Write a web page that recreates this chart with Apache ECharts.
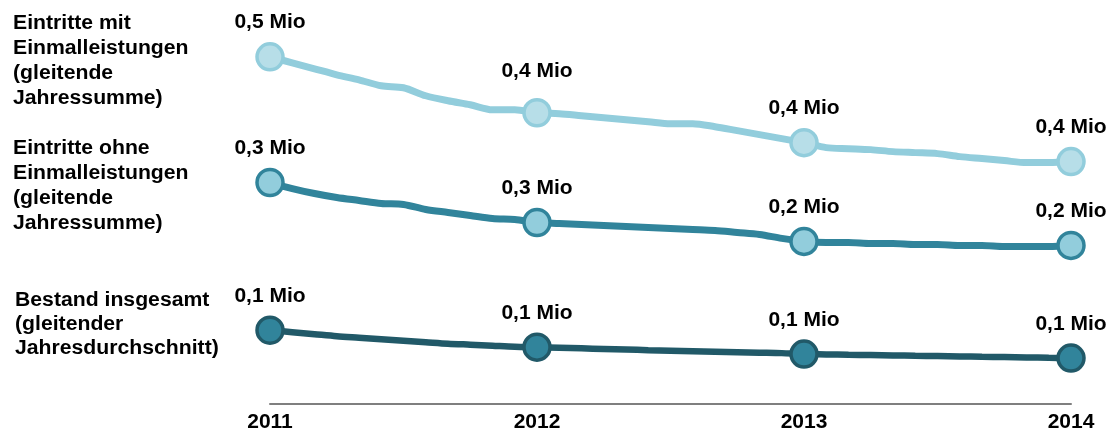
<!DOCTYPE html>
<html>
<head>
<meta charset="utf-8">
<script src="https://cdn.jsdelivr.net/npm/echarts@6/dist/echarts.min.js"></script>
<style>
  html, body { margin: 0; padding: 0; background: #fff; }
  #main { width: 1111px; height: 433px; }
</style>
</head>
<body>
<div id="main"></div>
<script>
// years on the axis, monthly steps between them
var years = [2011, 2012, 2013, 2014];
var stepsPerYear = 12;

// relative level of each line (monthly, Jan 2011 .. Jan 2014)
var mitEinmal = [348, 342, 336, 330, 325, 319, 317, 309, 304, 300, 295, 295,
    292, 291, 289, 287, 285, 283, 281, 281, 278, 274, 270, 266,
    262, 257, 256, 255, 253, 252, 251, 248, 246, 244, 242, 242, 243];
var ohneEinmal = [222, 216, 211, 207, 204, 201, 200, 195, 192, 189, 186, 185,
    182, 181, 180, 179, 178, 177, 176, 175, 174, 172, 170, 166,
    163, 162, 162, 161, 161, 160, 160, 159, 159, 158, 158, 158, 159];
var bestand = [74, 72, 70, 68, 66.5, 65, 63.5, 62, 60.5, 59.5, 58.5, 57.5,
    57, 56.4, 55.8, 55.2, 54.6, 54, 53.5, 53, 52.5, 52, 51.5, 51,
    50, 49.7, 49.3, 49, 48.7, 48.3, 48, 47.7, 47.3, 47, 46.7, 46.3, 46];

// labels at the year points
var mitLabels = ['0,5 Mio', '0,4 Mio', '0,4 Mio', '0,4 Mio'];
var ohneLabels = ['0,3 Mio', '0,3 Mio', '0,2 Mio', '0,2 Mio'];
var bestandLabels = ['0,1 Mio', '0,1 Mio', '0,1 Mio', '0,1 Mio'];

var legendTexts = [
    'Eintritte mit\nEinmalleistungen\n(gleitende\nJahressumme)',
    'Eintritte ohne\nEinmalleistungen\n(gleitende\nJahressumme)',
    'Bestand insgesamt\n(gleitender\nJahresdurchschnitt)'
];

var FONT = '"Liberation Sans", Arial, sans-serif';

function buildData(values, labels, lineColor, fillColor, labelDist) {
    var out = [];
    for (var i = 0; i < values.length; i++) {
        var x = years[0] + i / stepsPerYear;
        if (i % stepsPerYear === 0) {
            var k = i / stepsPerYear;
            out.push({
                value: [x, values[i]],
                symbol: 'circle',
                symbolSize: 26,
                itemStyle: { color: fillColor, borderColor: lineColor, borderWidth: 3.5 },
                label: {
                    show: true,
                    position: 'top',
                    distance: (labelDist && labelDist[k]) || 9,
                    formatter: labels[k],
                    color: '#000',
                    fontFamily: FONT,
                    fontWeight: 'bold',
                    fontSize: 21
                }
            });
        } else {
            out.push({ value: [x, values[i]], symbol: 'none' });
        }
    }
    return out;
}

function makeSeries(name, values, labels, lineColor, fillColor, width, labelDist) {
    return {
        name: name,
        type: 'line',
        smooth: 0.3,
        data: buildData(values, labels, lineColor, fillColor, labelDist),
        lineStyle: { color: lineColor, width: width },
        itemStyle: { color: fillColor },
        silent: true,
        animation: false
    };
}

function legendText(txt, left, top, lh) {
    return {
        type: 'text', left: left, top: top, scaleX: 1.06,
        style: { text: txt, font: 'bold 20px ' + FONT, lineHeight: lh, fill: '#000' }
    };
}

var chart = echarts.init(document.getElementById('main'));
chart.setOption({
    backgroundColor: '#fff',
    animation: false,
    grid: { left: 270, right: 40, top: 0, bottom: 28 },
    xAxis: {
        type: 'value',
        min: 2011,
        max: 2014,
        interval: 1,
        splitLine: { show: false },
        axisTick: { show: false },
        axisLine: { show: true, lineStyle: { color: '#7f7f7f', width: 2 } },
        axisLabel: {
            margin: 8,
            color: '#000',
            fontFamily: FONT,
            fontWeight: 'bold',
            fontSize: 21,
            formatter: function (v) { return String(Math.round(v)); }
        }
    },
    yAxis: {
        type: 'value',
        min: 0,
        max: 405,
        show: false
    },
    graphic: [
        legendText(legendTexts[0], 13, 11, 25),
        legendText(legendTexts[1], 13, 136, 25),
        legendText(legendTexts[2], 15, 288, 24)
    ],
    series: [
        makeSeries('Bestand insgesamt', bestand, bestandLabels, '#215968', '#31849b', 6.5),
        makeSeries('Eintritte ohne Einmalleistungen', ohneEinmal, ohneLabels, '#31849b', '#92cddc', 7),
        makeSeries('Eintritte mit Einmalleistungen', mitEinmal, mitLabels, '#92cddc', '#b7dee8', 7, [9, 16, 9, 9])
    ]
});
</script>
</body>
</html>
